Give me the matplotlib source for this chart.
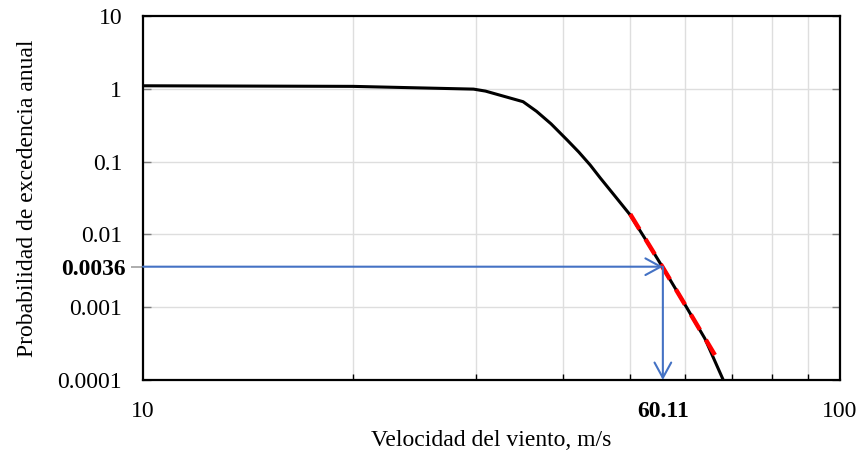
import matplotlib
matplotlib.use("Agg")
import matplotlib.pyplot as plt
from matplotlib.ticker import NullFormatter, FixedLocator, FixedFormatter

plt.rcParams['font.family'] = ['Liberation Serif', 'DejaVu Serif']

# Curve: wind speed (m/s) vs annual exceedance probability
speed = [10, 20, 29.8, 31.0, 35.1, 36.7, 38.5, 40.6, 42.2, 43.8, 45.3, 47.5, 50, 53.0, 55.7, 60.3, 64.0, 68.0]
prob = [1.10, 1.08, 0.99, 0.93, 0.665, 0.49, 0.33, 0.198, 0.135, 0.09, 0.0595, 0.034, 0.0185, 0.0076, 0.0035, 0.00098, 0.00037, 0.0001]

# Red dashed fit segment
fit_speed = [50.0, 55.7, 60.3, 66.4]
fit_prob = [0.019, 0.0035, 0.00098, 0.000207]

# Reading (arrow) values
read_speed_pos = 55.7      # position of the arrow on the x axis (as drawn)
read_speed_label = "60.11"
read_prob = 0.0036
read_prob_label = "0.0036"

x_major = [10, 100]
x_major_labels = ["10", "100"]
x_minor = [20, 30, 40, 50, 60, 70, 80, 90]
y_major = [0.0001, 0.001, 0.01, 0.1, 1, 10]
y_major_labels = ["0.0001", "0.001", "0.01", "0.1", "1", "10"]

FS = 17

fig = plt.figure(figsize=(8.62, 4.57), dpi=100)
ax = fig.add_axes([143/862, 1-380/457, (840-143)/862, (380-16)/457])
ax.set_xscale('log')
ax.set_yscale('log')
ax.set_xlim(10, 100)
ax.set_ylim(0.0001, 10)

# grid
for xv in x_minor:
    ax.axvline(xv, color='#dedede', lw=1.0, zorder=0)
for yv in y_major[1:-1]:
    ax.axhline(yv, color='#dedede', lw=1.0, zorder=0)

ax.plot(speed, prob, color='black', lw=2.2, zorder=3, solid_joinstyle='round')
ax.plot(fit_speed, fit_prob, color='#ff0000', lw=3.2, dashes=(4, 2.6), zorder=4)

blue = '#4472C4'
astyle = '->,head_length=1.1,head_width=0.6'
ax.annotate('', xy=(read_speed_pos, read_prob), xytext=(10, read_prob),
            arrowprops=dict(arrowstyle=astyle, color=blue, lw=1.5,
                            shrinkA=0, shrinkB=0), zorder=5)
ax.annotate('', xy=(read_speed_pos, 0.0001), xytext=(read_speed_pos, read_prob),
            arrowprops=dict(arrowstyle=astyle, color=blue, lw=1.5,
                            shrinkA=0, shrinkB=0), zorder=5)

# x ticks
ax.xaxis.set_major_locator(FixedLocator(x_major + [read_speed_pos]))
ax.xaxis.set_major_formatter(FixedFormatter(x_major_labels + [read_speed_label]))
ax.xaxis.set_minor_locator(FixedLocator(x_minor))
ax.xaxis.set_minor_formatter(NullFormatter())
ax.tick_params(axis='x', which='major', length=0, pad=15, labelsize=FS)
ax.tick_params(axis='x', which='minor', direction='in', length=4, width=1, color='black')
for lbl in ax.get_xticklabels():
    if lbl.get_text() == read_speed_label:
        lbl.set_fontweight('bold')

# y ticks
ax.yaxis.set_major_locator(FixedLocator(y_major))
ax.yaxis.set_major_formatter(FixedFormatter(y_major_labels))
ax.yaxis.set_minor_locator(FixedLocator([read_prob]))
ax.yaxis.set_minor_formatter(FixedFormatter([read_prob_label]))
ax.tick_params(axis='y', which='major', direction='in', length=6, width=1, color='#7f7f7f',
               labelsize=FS, pad=15, right=True)
ax.tick_params(axis='y', which='minor', direction='out', length=9, width=1.2, color='#a0a0a0',
               labelsize=FS, pad=3.5, left=True, right=False)
for lbl in ax.yaxis.get_minorticklabels():
    lbl.set_fontweight('bold')

for s in ax.spines.values():
    s.set_linewidth(1.6)
    s.set_color('black')

ax.set_xlabel('Velocidad del viento, m/s', fontsize=FS, labelpad=6)
ax.set_ylabel('Probabilidad de excedencia anual', fontsize=FS, labelpad=14)

fig.savefig('out.png', dpi=100)
